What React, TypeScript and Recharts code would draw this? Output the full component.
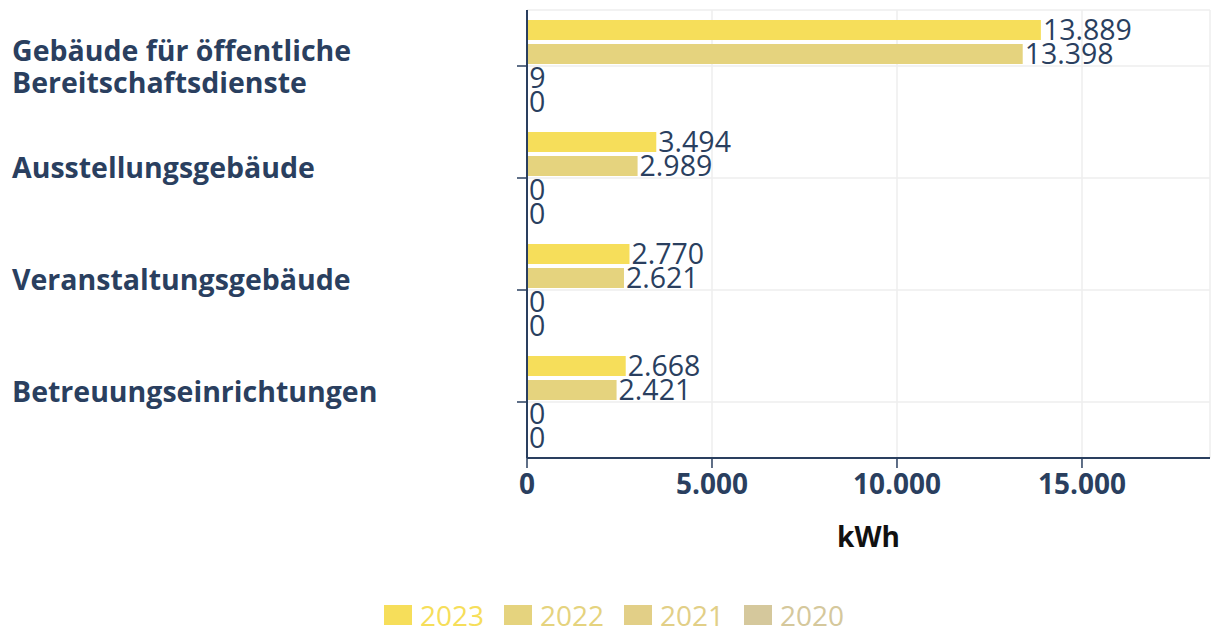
import React from 'react';
import { BarChart, Bar, XAxis, YAxis, CartesianGrid, Legend, LabelList } from 'recharts';

const categories = [
  'Gebäude für öffentliche Bereitschaftsdienste',
  'Ausstellungsgebäude',
  'Veranstaltungsgebäude',
  'Betreuungseinrichtungen',
];
const categoryLines = [
  ['Gebäude für öffentliche', 'Bereitschaftsdienste'],
  ['Ausstellungsgebäude'],
  ['Veranstaltungsgebäude'],
  ['Betreuungseinrichtungen'],
];

const years = ['2023', '2022', '2021', '2020'];
const values2023 = [13889, 3494, 2770, 2668];
const values2022 = [13398, 2989, 2621, 2421];
const values2021 = [9, 0, 0, 0];
const values2020 = [0, 0, 0, 0];
const xTicks = [0, 5000, 10000, 15000];

const COLORS = ['#f6de5a', '#e5d37e', '#e2cf87', '#d5c89c'];
const NAVY = '#2a3f5f';
const FONT = '"Open Sans", sans-serif';

const data = categories.map((name, i) => ({
  name,
  y2023: values2023[i],
  y2022: values2022[i],
  y2021: values2021[i],
  y2020: values2020[i],
}));

const fmt = (v: number) => v.toLocaleString('de-DE');

const CategoryTick = (props: any) => {
  const { y, payload } = props;
  const idx = categories.indexOf(payload.value);
  const lines = categoryLines[idx] || [payload.value];
  const startY = lines.length > 1 ? y - 5 : y;
  return (
    <text x={12} y={startY} textAnchor="start" fill={NAVY} fontSize={28.5} fontWeight={700} fontFamily={FONT}>
      {lines.map((l, i) => (
        <tspan key={i} x={12} y={startY + i * 32}>{l}</tspan>
      ))}
    </text>
  );
};

const LegendContent = () => (
  <div style={{ display: 'flex', justifyContent: 'center', alignItems: 'center', boxSizing: 'border-box', height: 50, paddingLeft: 18, paddingTop: 14, fontFamily: FONT }}>
    {years.map((yr, i) => (
      <div key={yr} style={{ display: 'flex', alignItems: 'center', marginRight: i < years.length - 1 ? 20 : 0 }}>
        <span style={{ width: 28, height: 20, background: COLORS[i], display: 'inline-block', marginRight: 8 }} />
        <span style={{ fontSize: 28, color: COLORS[i], lineHeight: '28px' }}>{yr}</span>
      </div>
    ))}
  </div>
);

export default function App() {
  const keys = ['y2023', 'y2022', 'y2021', 'y2020'];
  return (
    <div style={{ position: 'absolute', left: 0, top: 0, width: 1211, height: 633, background: '#fff' }}>
      <BarChart
        width={1211}
        height={633}
        data={data}
        layout="vertical"
        margin={{ top: 10, right: 1, bottom: 0, left: 0 }}
        barSize={20}
        barGap={4}
      >
        <CartesianGrid stroke="#eeeeee" strokeWidth={1.5} />
        <XAxis
          type="number"
          domain={[0, 18460]}
          ticks={xTicks}
          tickFormatter={fmt}
          allowDataOverflow
          height={125}
          tickSize={10}
          tickMargin={6}
          axisLine={{ stroke: NAVY, strokeWidth: 2 }}
          tickLine={{ stroke: NAVY, strokeWidth: 1.5 }}
          tick={{ fill: NAVY, fontSize: 28, fontWeight: 700, fontFamily: FONT }}
          label={(p: any) => {
            const vb = p.viewBox || {};
            return (
              <text x={vb.x + vb.width / 2} y={vb.y + 89} textAnchor="middle" fill="#111" fontSize={28} fontWeight={700} fontFamily={FONT}>
                kWh
              </text>
            );
          }}
        />
        <YAxis
          type="category"
          dataKey="name"
          width={527}
          tickSize={10}
          axisLine={{ stroke: NAVY, strokeWidth: 2 }}
          tickLine={{ stroke: NAVY, strokeWidth: 1.5 }}
          tick={<CategoryTick />}
          interval={0}
        />
        <Legend verticalAlign="bottom" content={<LegendContent />} />
        {keys.map((k, i) => (
          <Bar key={k} dataKey={k} name={years[i]} fill={COLORS[i]} minPointSize={0.01} isAnimationActive={false}>
            <LabelList
              dataKey={k}
              position="right"
              offset={2}
              formatter={(v: any) => fmt(Number(v))}
              style={{ fill: NAVY, fontSize: 28.5, fontFamily: FONT }}
            />
          </Bar>
        ))}
      </BarChart>
    </div>
  );
}
